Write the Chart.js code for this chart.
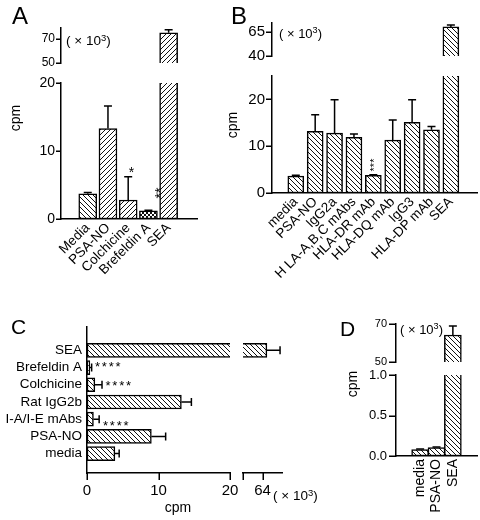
<!DOCTYPE html>
<html>
<head>
<meta charset="utf-8">
<script src="https://cdn.jsdelivr.net/npm/chart.js@4"></script>
<style>
  html, body { margin: 0; padding: 0; background: #fff; }
  #fig { position: relative; width: 480px; height: 520px; overflow: hidden;
         font-family: 'Liberation Sans', Arial, sans-serif; color: #000; }
  #fig canvas { position: absolute; }
  .t { position: absolute; white-space: nowrap; line-height: 1; }
  .t sup { font-size: 70%; line-height: 0; vertical-align: 0.45em; }
</style>
</head>
<body>
<div id="fig"></div>
<script>
// A: proliferation, inhibitors
const catsA = ['Media', 'PSA-NO', 'Colchicine', 'Brefeldin A', 'SEA'];
const valsA = [3.7, 13.3, 2.8, 1.2, 75];
const errA = [0.2, 3.3, 3.4, 0.1, 2.5];

// B: blocking mAbs
const catsB = ['media', 'PSA-NO', 'IgG2a', 'H LA-A,B,C mAbs', 'HLA-DR mAb', 'HLA-DQ mAb', 'IgG3', 'HLA-DP mAb', 'SEA'];
const valsB = [3.6, 13.2, 12.8, 11.9, 3.8, 11.3, 15.1, 13.5, 70];
const errB = [0.2, 3.5, 7.1, 0.7, 0.1, 4.3, 4.8, 0.7, 2];

// C: mouse cells (top to bottom)
const catsC = ['SEA', 'Brefeldin A', 'Colchicine', 'Rat IgG2b', 'I-A/I-E mAbs', 'PSA-NO', 'media'];
const valsC = [64.9, 0.4, 1.1, 13.2, 0.9, 9.0, 3.9];
const errC = [2.7, 0.25, 1.0, 1.4, 0.8, 2.0, 0.6];

// D
const catsD = ['media', 'PSA-NO', 'SEA'];
const valsD = [0.08, 0.105, 64.2];
const errD = [0.006, 0.006, 4.8];

// tick values for each axis segment
const ticksAlo = [0, 10, 20], ticksAhi = [50, 70];
const ticksBlo = [0, 10, 20], ticksBhi = [40, 65];
const ticksClo = [0, 10, 20], ticksChi = [60, 64];
const ticksDlo = [0, 0.5, 1], ticksDhi = [50, 70];

Chart.defaults.font.family = "'Liberation Sans', Arial, sans-serif";
Chart.defaults.color = '#000';

const fig = document.getElementById('fig');

function hatch(kind) {
  const s = kind == 'cross' ? 4 : 5, c = document.createElement('canvas');
  c.width = c.height = s;
  const g = c.getContext('2d');
  g.fillStyle = '#fff';
  g.fillRect(0, 0, s, s);
  g.strokeStyle = '#111';
  g.lineWidth = 1;
  g.beginPath();
  for (let k = -1; k <= 1; k++) {
    if (kind != 'fwd') { g.moveTo(k * s, 0); g.lineTo(k * s + s, s); }
    if (kind != 'back') { g.moveTo(k * s, s); g.lineTo(k * s + s, 0); }
  }
  g.stroke();
  return g.createPattern(c, 'repeat');
}

const errorBars = {
  id: 'errorBars',
  afterDatasetsDraw(chart) {
    const { ctx, chartArea: a } = chart;
    const ds = chart.data.datasets[0];
    const meta = chart.getDatasetMeta(0);
    const horiz = chart.options.indexAxis == 'y';
    const vs = horiz ? chart.scales.x : chart.scales.y;
    ctx.save();
    ctx.beginPath();
    ctx.rect(a.left - 6, a.top - 4, a.width + 12, a.height + 8);
    ctx.clip();
    ctx.strokeStyle = '#000';
    ctx.lineWidth = 1.5;
    meta.data.forEach((bar, i) => {
      const e = ds.errors[i];
      if (!e) return;
      const v = ds.data[i][horiz ? 'x' : 'y'];
      const p0 = vs.getPixelForValue(v), p1 = vs.getPixelForValue(v + e);
      ctx.beginPath();
      if (horiz) {
        ctx.moveTo(p0, bar.y); ctx.lineTo(p1, bar.y);
        ctx.moveTo(p1, bar.y - 4); ctx.lineTo(p1, bar.y + 4);
      } else {
        ctx.moveTo(bar.x, p0); ctx.lineTo(bar.x, p1);
        ctx.moveTo(bar.x - 4, p1); ctx.lineTo(bar.x + 4, p1);
      }
      ctx.stroke();
    });
    ctx.restore();
  }
};

// tick marks on the value axis, outward from the axis line
function tickMarks(axisId, len) {
  return {
    id: 'tickMarks',
    afterDraw(chart) {
      const s = chart.scales[axisId], ctx = chart.ctx;
      ctx.save();
      ctx.strokeStyle = '#000';
      ctx.lineWidth = 1.5;
      ctx.beginPath();
      s.ticks.forEach(t => {
        const p = Math.round(s.getPixelForValue(t.value)) + 0.25;
        if (s.isHorizontal()) { ctx.moveTo(p, s.top); ctx.lineTo(p, s.top + len); }
        else { ctx.moveTo(s.right, p); ctx.lineTo(s.right - len, p); }
      });
      ctx.stroke();
      ctx.restore();
    }
  };
}

// one chart segment; o.area = chart area in page pixels
function panel(o) {
  const P = 22, yW = o.yW || 0, xH = o.xH || 0;
  const [l, t, r, b] = o.area;
  const W = r - l + yW + 2 * P, H = b - t + xH + 2 * P;
  const cv = document.createElement('canvas');
  cv.width = W; cv.height = H;
  cv.style.left = (l - yW - P) + 'px';
  cv.style.top = (t - P) + 'px';
  cv.style.width = W + 'px';
  cv.style.height = H + 'px';
  fig.appendChild(cv);

  const horiz = !!o.horiz;
  const data = o.vals.map((v, i) => horiz ? { x: v, y: i } : { x: i, y: v });

  const valAxis = {
    type: 'linear', min: o.min, max: o.max,
    afterBuildTicks: s => { s.ticks = o.ticks.map(v => ({ value: v })); },
    afterFit: s => { if (horiz) s.height = xH; else s.width = yW; },
    ticks: { font: { size: o.tickSize }, padding: o.tickLen + o.tickPad, callback: o.fmt || (v => String(v)) },
    grid: { display: false, drawTicks: false },
    border: { display: true, color: '#000', width: 1.5 }
  };
  const catAxis = {
    type: 'linear', display: !o.hideCat, reverse: horiz, min: o.cmin, max: o.cmax,
    afterBuildTicks: s => { s.ticks = o.cats.map((c, i) => ({ value: i })); },
    afterFit: s => { if (horiz) s.width = yW; else s.height = xH; },
    ticks: {
      autoSkip: false, font: { size: o.catSize }, padding: o.catPad,
      minRotation: o.rot || 0, maxRotation: o.rot || 0,
      callback: v => o.cats[v]
    },
    grid: { display: false, drawTicks: false },
    border: { display: true, color: '#000', width: 1.5 }
  };

  new Chart(cv, {
    type: 'bar',
    data: {
      datasets: [{
        data: data,
        errors: o.errs,
        backgroundColor: o.pats.map(hatch),
        borderColor: '#000',
        borderWidth: 1.5,
        borderSkipped: false,
        barThickness: o.bw,
        clip: 0
      }]
    },
    options: {
      indexAxis: horiz ? 'y' : 'x',
      responsive: false,
      animation: false,
      devicePixelRatio: 1,
      layout: { padding: P },
      plugins: { legend: { display: false }, tooltip: { enabled: false } },
      scales: horiz ? { x: valAxis, y: catAxis } : { x: catAxis, y: valAxis }
    },
    plugins: [errorBars, tickMarks(horiz ? 'x' : 'y', o.tickLen)]
  });
}

// html text helper: (x, y) is the anchor, y is the vertical centre of the line
function lab(html, x, y, size, align, rot, extra) {
  const d = document.createElement('div');
  d.className = 't';
  d.innerHTML = html;
  const tx = align == 'center' ? '-50%' : align == 'right' ? '-100%' : '0';
  d.style.cssText = `left:${x}px;top:${y}px;font-size:${size}px;transform:translate(${tx},-50%)` +
    (rot ? ` rotate(${rot}deg)` : '') + ';' + (extra || '');
  fig.appendChild(d);
}

// ---- A ----
const patA = ['back', 'fwd', 'fwd', 'cross', 'fwd'];
panel({ area: [61, 83, 197, 219], yW: 40, xH: 80, cats: catsA, vals: valsA, errs: errA, pats: patA,
  min: 0, max: 20, ticks: ticksAlo, tickSize: 14, tickLen: 5, tickPad: 1,
  cmin: -0.65, cmax: 4.73, rot: 45, catSize: 13.5, catPad: 1, bw: 18 });
panel({ area: [61, 28, 197, 63], yW: 40, cats: catsA, vals: valsA, errs: errA, pats: patA, hideCat: true,
  min: 50, max: 79, ticks: ticksAhi, tickSize: 12, tickLen: 5, tickPad: 1,
  cmin: -0.65, cmax: 4.73, bw: 18 });

// ---- B ----
const patB = catsB.map(() => 'back');
panel({ area: [272, 76, 477, 193], yW: 40, xH: 110, cats: catsB, vals: valsB, errs: errB, pats: patB,
  min: 0, max: 25, ticks: ticksBlo, tickSize: 15, tickLen: 6, tickPad: 1,
  cmin: -0.64, cmax: 8.76, rot: 45, catSize: 13.5, catPad: 1, bw: 16 });
panel({ area: [272, 23, 477, 56], yW: 40, cats: catsB, vals: valsB, errs: errB, pats: patB, hideCat: true,
  min: 40, max: 74, ticks: ticksBhi, tickSize: 15, tickLen: 6, tickPad: 1,
  cmin: -0.64, cmax: 8.76, bw: 16 });

// ---- C ----
const patC = catsC.map(() => 'back');
panel({ horiz: true, area: [87, 327, 230, 473], yW: 87, xH: 40, cats: catsC, vals: valsC, errs: errC, pats: patC,
  min: 0, max: 20, ticks: ticksClo, tickSize: 15, tickLen: 7, tickPad: 2,
  cmin: -0.75, cmax: 6.52, catSize: 13.5, catPad: 5, bw: 14 });
panel({ horiz: true, area: [243, 327, 282, 473], xH: 40, cats: catsC, vals: valsC, errs: errC, pats: patC, hideCat: true,
  min: 60, max: 68, ticks: ticksChi, tickSize: 15, tickLen: 7, tickPad: 2, fmt: v => v == 60 ? '' : String(v),
  cmin: -0.75, cmax: 6.52, bw: 14 });

// ---- D ----
const patD = catsD.map(() => 'back');
panel({ area: [396, 375, 477, 456], yW: 40, xH: 65, cats: catsD, vals: valsD, errs: errD, pats: patD,
  min: 0, max: 1, ticks: ticksDlo, tickSize: 13, tickLen: 7, tickPad: 2, fmt: v => v.toFixed(1),
  cmin: -0.65, cmax: 2.65, rot: 90, catSize: 14, catPad: 3, bw: 17 });
panel({ area: [396, 324, 477, 362], yW: 40, cats: catsD, vals: valsD, errs: errD, pats: patD, hideCat: true,
  min: 50, max: 70, ticks: ticksDhi, tickSize: 11, tickLen: 7, tickPad: 2,
  cmin: -0.65, cmax: 2.65, bw: 17 });

// panel letters, axis titles, units, significance marks
lab('A', 20, 16, 24, 'center');
lab('B', 239, 16, 24, 'center');
lab('C', 18.5, 326, 21, 'center');
lab('D', 347.5, 328, 21, 'center');

lab('( × 10<sup>3</sup>)', 66, 40.5, 13.5);
lab('( × 10<sup>3</sup>)', 279, 33, 13);
lab('( × 10<sup>3</sup>)', 273, 496, 13.5);
lab('( × 10<sup>3</sup>)', 400, 329, 13);

lab('cpm', 14.8, 118, 14, 'center', -90);
lab('cpm', 232, 125, 14, 'center', -90);
lab('cpm', 178, 506.8, 14, 'center');
lab('cpm', 352.3, 383.5, 14, 'center', -90);

lab('*', 131.5, 172.2, 14, 'center');
lab('**', 159.9, 193.3, 14, 'center', -90);
lab('***', 374.2, 165, 11, 'center', -90);
lab('****', 95, 365.6, 13, 'left', 0, 'letter-spacing:1.8px');
lab('****', 105.5, 384.9, 13, 'left', 0, 'letter-spacing:1.8px');
lab('****', 103, 424.9, 13, 'left', 0, 'letter-spacing:1.8px');
</script>
</body>
</html>
